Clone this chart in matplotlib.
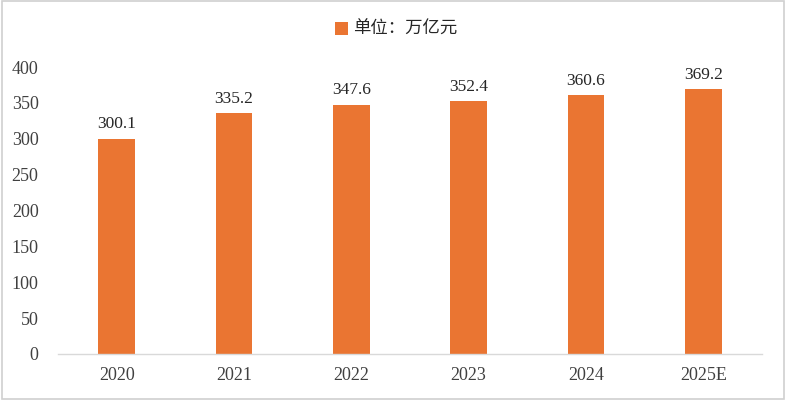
import matplotlib
matplotlib.use("Agg")
from matplotlib import pyplot as plt
from matplotlib.patches import Rectangle

years = ['2020', '2021', '2022', '2023', '2024', '2025E']
values = [300.1, 335.2, 347.6, 352.4, 360.6, 369.2]
legend_label = '单位：万亿元'

bar_color = '#EA7532'
serif = ['Liberation Serif', 'DejaVu Serif']

fig = plt.figure(figsize=(7.86, 4.0), dpi=100)
ax = fig.add_axes([0.0738, 0.115, 0.8957, 0.7175])

x = range(len(years))
bars = ax.bar(x, values, width=0.31, color=bar_color, label=legend_label, zorder=2)

for xi, v in zip(x, values):
    ax.text(xi, v + 9, f'{v:.1f}', ha='center', va='bottom',
            fontsize=12.5, family=serif, color='#262626')

ax.set_xlim(-0.5, len(years) - 0.5)
ax.set_ylim(0, 400)
ax.set_yticks(range(0, 401, 50))
ax.set_xticks(list(x))
ax.set_xticklabels(years)

for lab in ax.get_xticklabels() + ax.get_yticklabels():
    lab.set_fontfamily(serif)
    lab.set_fontsize(13)
    lab.set_color('#404040')

ax.tick_params(axis='both', length=0)
ax.tick_params(axis='y', pad=14)
ax.tick_params(axis='x', pad=9)
for side in ['top', 'right', 'left']:
    ax.spines[side].set_visible(False)
ax.spines['bottom'].set_color('#D9D9D9')
ax.spines['bottom'].set_linewidth(1.0)

leg = fig.legend(loc='center', bbox_to_anchor=(0.504, 0.927), frameon=False,
                 prop={'family': ['Noto Sans CJK SC', 'DejaVu Sans'], 'size': 12.5},
                 handlelength=0.75, handleheight=0.75, handletextpad=0.3)
for t in leg.get_texts():
    t.set_color('#262626')

# light frame around the whole chart
fig.patches.append(Rectangle((0.002, 0.003), 0.996, 0.994, transform=fig.transFigure,
                             fill=False, edgecolor='#D0D0D0', linewidth=1.2))

fig.savefig('out.png', dpi=100)
